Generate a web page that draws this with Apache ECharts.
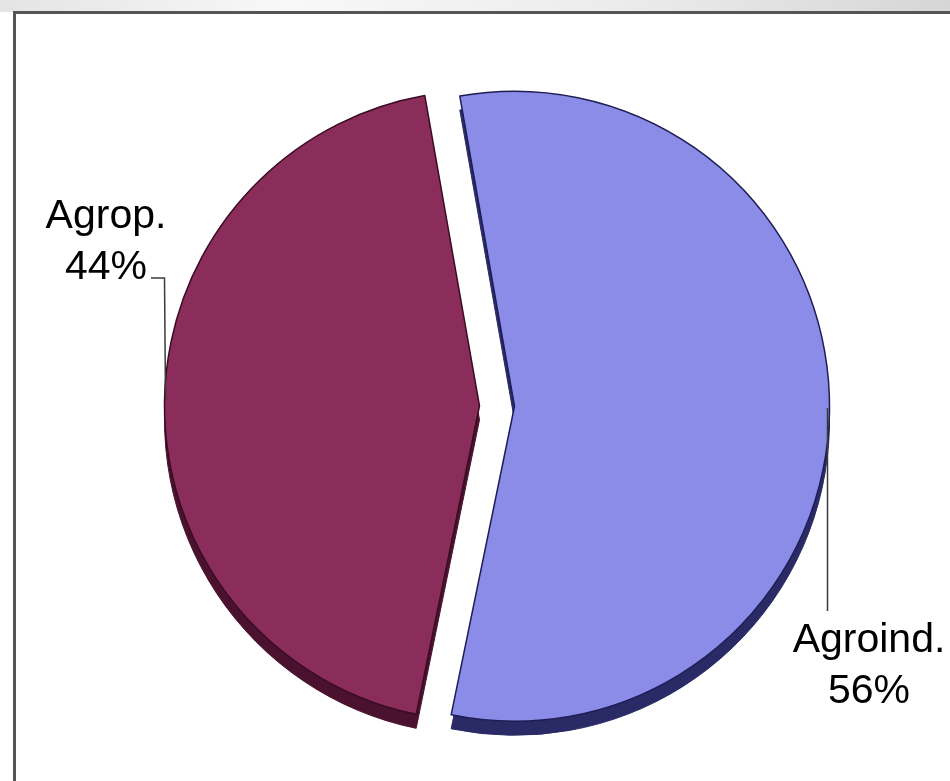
<!DOCTYPE html>
<html><head><meta charset="utf-8">
<script src="https://cdn.jsdelivr.net/npm/echarts@6/dist/echarts.min.js"></script>
<style>html,body{margin:0;padding:0;background:#fff}#c{width:950px;height:781px}</style>
</head><body><div id="c"></div>
<script>
// ---- data ----
const categories = ['Agroind.', 'Agrop.'];
const values = [56, 44];

// ---- styles ----
const topColors = ['#8B8BE8', '#8B2D5A'];
const sideColors = ['#2A2A66', '#4A122E'];
const edgeColors = ['#1E1E55', '#3A0C24'];

const CX = 497, CY = 406, R = 315, START = 100, OFFSET = 17.5, DEPTH = 14;

const chart = echarts.init(document.getElementById('c'), null, {renderer: 'canvas'});

function items(colors, withBorder) {
  return categories.map((name, i) => ({
    name: name,
    value: values[i],
    selected: true,
    itemStyle: withBorder
      ? {color: colors[i], borderColor: edgeColors[i], borderWidth: 1.5}
      : {color: colors[i], borderColor: colors[i], borderWidth: 1}
  }));
}

const total = values.reduce((a, b) => a + b, 0);
const pct = values.map(v => Math.round(v / total * 100));
const labelText = categories.map((c, i) => c + '\n' + pct[i] + '%');

const textStyle = {
  fill: '#000', fontFamily: 'Liberation Sans, Arial, sans-serif',
  fontSize: 41, lineHeight: 51, align: 'center', verticalAlign: 'middle'
};

const rimRight = CX + OFFSET + R;
const rimLeft = CX - OFFSET - R;

const option = {
  animation: false,
  backgroundColor: '#ffffff',
  graphic: [
    {type: 'rect', shape: {x: 0, y: 0, width: 950, height: 12}, z: 0,
     style: {fill: new echarts.graphic.LinearGradient(0, 0, 1, 0, [
       {offset: 0, color: '#e4e4e4'}, {offset: 0.3, color: '#f8f8f8'},
       {offset: 0.65, color: '#ececec'}, {offset: 1, color: '#d6d6d6'}])}},
    {type: 'rect', shape: {x: 13, y: 11, width: 937, height: 3}, z: 0, style: {fill: '#555555'}},
    {type: 'rect', shape: {x: 13, y: 11, width: 3, height: 770}, z: 0, style: {fill: '#555555'}},
    {type: 'polyline', z: 10,
     shape: {points: [[rimRight - 2, CY + 2], [rimRight - 2, 611]]},
     style: {stroke: '#3a3a3a', lineWidth: 1.5, fill: null}},
    {type: 'polyline', z: 10,
     shape: {points: [[rimLeft + 1, CY - 6], [rimLeft, 278], [151, 278]]},
     style: {stroke: '#3a3a3a', lineWidth: 1.5, fill: null}},
    {type: 'text', z: 10, x: 869, y: 666,
     style: Object.assign({text: labelText[0]}, textStyle)},
    {type: 'text', z: 10, x: 106, y: 242,
     style: Object.assign({text: labelText[1]}, textStyle)}
  ],
  series: [
    {
      type: 'pie', silent: true, z: 1,
      center: [CX, CY + DEPTH], radius: R, startAngle: START, clockwise: true,
      selectedMode: 'multiple', selectedOffset: OFFSET,
      label: {show: false}, labelLine: {show: false},
      data: items(sideColors, false)
    },
    {
      type: 'pie', silent: true, z: 2,
      center: [CX, CY], radius: R, startAngle: START, clockwise: true,
      selectedMode: 'multiple', selectedOffset: OFFSET,
      label: {show: false}, labelLine: {show: false},
      data: items(topColors, true)
    }
  ]
};
chart.setOption(option);
</script>
</body></html>
